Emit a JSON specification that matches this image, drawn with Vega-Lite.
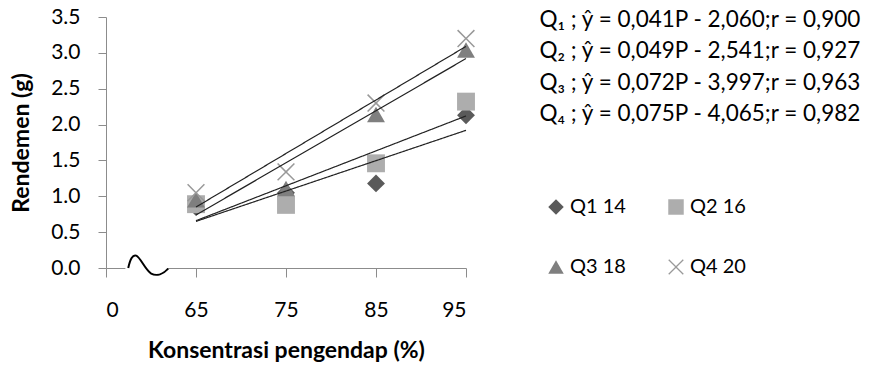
{
  "$schema": "https://vega.github.io/schema/vega-lite/v6.json",
  "width": 360,
  "height": 251,
  "padding": {"left": 10, "top": 6, "right": 0, "bottom": 0},
  "background": "white",
  "datasets": {
    "pts": [
      {"series": "Q1 14", "P": 65, "y": 0.85},
      {"series": "Q1 14", "P": 75, "y": 1.05},
      {"series": "Q1 14", "P": 85, "y": 1.18},
      {"series": "Q1 14", "P": 95, "y": 2.13},
      {"series": "Q2 16", "P": 65, "y": 0.89},
      {"series": "Q2 16", "P": 75, "y": 0.88},
      {"series": "Q2 16", "P": 85, "y": 1.46},
      {"series": "Q2 16", "P": 95, "y": 2.32},
      {"series": "Q3 18", "P": 65, "y": 0.95},
      {"series": "Q3 18", "P": 75, "y": 1.11},
      {"series": "Q3 18", "P": 85, "y": 2.14},
      {"series": "Q3 18", "P": 95, "y": 3.04},
      {"series": "Q4 20", "P": 65, "y": 1.05},
      {"series": "Q4 20", "P": 75, "y": 1.34},
      {"series": "Q4 20", "P": 85, "y": 2.30},
      {"series": "Q4 20", "P": 95, "y": 3.20}
    ],
    "trend": [
      {"eq": "Q₁ ; ŷ = 0,041P - 2,060;r = 0,900", "P": 65, "y": 0.65},
      {"eq": "Q₁ ; ŷ = 0,041P - 2,060;r = 0,900", "P": 95, "y": 1.92},
      {"eq": "Q₂ ; ŷ = 0,049P - 2,541;r = 0,927", "P": 65, "y": 0.66},
      {"eq": "Q₂ ; ŷ = 0,049P - 2,541;r = 0,927", "P": 95, "y": 2.12},
      {"eq": "Q₃ ; ŷ = 0,072P - 3,997;r = 0,963", "P": 65, "y": 0.74},
      {"eq": "Q₃ ; ŷ = 0,072P - 3,997;r = 0,963", "P": 95, "y": 2.92},
      {"eq": "Q₄ ; ŷ = 0,075P - 4,065;r = 0,982", "P": 65, "y": 0.85},
      {"eq": "Q₄ ; ŷ = 0,075P - 4,065;r = 0,982", "P": 95, "y": 3.09}
    ],
    "brk": [{"from": 14, "to": 44, "mid": 30.5, "y": 0}]
  },
  "layer": [
    {
      "data": {"name": "pts"},
      "mark": {"type": "point", "filled": true, "opacity": 1, "size": 320, "strokeWidth": 0},
      "encoding": {
        "x": {
          "field": "P", "type": "quantitative",
          "scale": {"domain": [0, 65, 95], "range": [0, 90, 360], "nice": false, "zero": false},
          "axis": {"values": [0, 65, 75, 85, 95], "title": "Konsentrasi pengendap (%)", "grid": false,
            "tickSize": 9, "labelPadding": 22, "titlePadding": 19, "labelOverlap": false}
        },
        "y": {
          "field": "y", "type": "quantitative",
          "scale": {"domain": [0, 3.5], "nice": false},
          "axis": {"tickCount": 7, "format": ".1f", "title": "Rendemen (g)", "grid": false,
            "tickSize": 8, "labelPadding": 18, "titlePadding": 17, "labelOverlap": false, "labelBound": false, "labelFlush": false}
        },
        "shape": {
          "field": "series", "type": "nominal",
          "scale": {"domain": ["Q1 14", "Q2 16", "Q3 18", "Q4 20"],
            "range": ["diamond", "square", "triangle-up",
              "M0,0.12L0.88,1L1,0.88L0.12,0L1,-0.88L0.88,-1L0,-0.12L-0.88,-1L-1,-0.88L-0.12,0L-1,0.88L-0.88,1Z"]},
          "legend": {"title": null, "orient": "none", "legendX": 440, "legendY": 180, "columns": 2, "direction": "horizontal",
            "symbolSize": 240, "labelFontSize": 20, "labelFont": "Lato", "labelColor": "#000",
            "rowPadding": 40, "columnPadding": 40, "labelOffset": 4, "padding": 0, "symbolStrokeWidth": 0}
        },
        "color": {
          "field": "series", "type": "nominal",
          "scale": {"domain": ["Q1 14", "Q2 16", "Q3 18", "Q4 20"],
            "range": ["#5a5a5a", "#adadad", "#7f7f7f", "#999999"]},
          "legend": {"title": null, "orient": "none", "legendX": 440, "legendY": 180, "columns": 2, "direction": "horizontal",
            "symbolSize": 240, "labelFontSize": 20, "labelFont": "Lato", "labelColor": "#000",
            "rowPadding": 40, "columnPadding": 40, "labelOffset": 4, "padding": 0, "symbolStrokeWidth": 0}
        }
      }
    },
    {
      "data": {"name": "brk"},
      "mark": {"type": "rule", "stroke": "white", "strokeWidth": 3},
      "encoding": {
        "x": {"field": "from", "type": "quantitative"},
        "x2": {"field": "to"},
        "y": {"field": "y", "type": "quantitative"}
      }
    },
    {
      "data": {"name": "brk"},
      "mark": {"type": "point", "filled": false, "stroke": "black", "strokeWidth": 2, "opacity": 1, "size": 1600,
        "shape": "M-1,0C-0.9,-0.45 -0.78,-0.68 -0.6,-0.62C-0.4,-0.55 -0.15,0.1 0.15,0.28C0.42,0.42 0.75,0.3 1,0.03"},
      "encoding": {
        "x": {"field": "mid", "type": "quantitative"},
        "y": {"field": "y", "type": "quantitative"}
      }
    },
    {
      "data": {"name": "trend"},
      "mark": {"type": "line", "color": "#222222", "strokeWidth": 1.2},
      "encoding": {
        "x": {"field": "P", "type": "quantitative"},
        "y": {"field": "y", "type": "quantitative"},
        "strokeDash": {
          "field": "eq", "type": "nominal",
          "scale": {"range": [[1, 0], [1, 0], [1, 0], [1, 0]]},
          "legend": {"title": null, "orient": "none", "legendX": 411, "legendY": -8.5,
            "symbolSize": 0, "symbolStrokeWidth": 0, "symbolOpacity": 0, "labelOffset": 0,
            "labelFontSize": 22.5, "labelFont": "Lato", "labelColor": "#000", "labelLimit": 600,
            "rowPadding": 8.5, "padding": 0}
        }
      }
    }
  ],
  "config": {
    "view": {"stroke": null},
    "font": "Lato",
    "axis": {
      "domainColor": "#8c8c8c", "tickColor": "#8c8c8c", "domainWidth": 1, "tickWidth": 1,
      "labelOverlap": false,
      "labelFont": "Lato", "labelFontSize": 21, "labelColor": "#000", "labelFontWeight": "normal",
      "titleFont": "Lato", "titleFontSize": 23, "titleFontWeight": "bold", "titleColor": "#000"
    }
  }
}
